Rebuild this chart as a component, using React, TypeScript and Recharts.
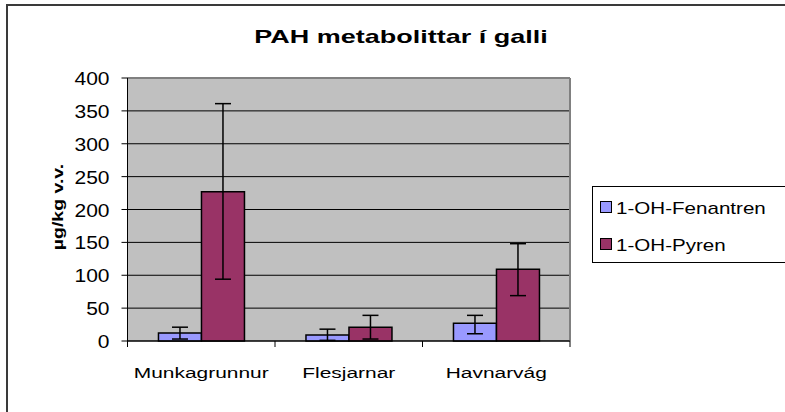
import { BarChart, Bar, XAxis, YAxis, CartesianGrid, ErrorBar } from "recharts";

const categories = ["Munkagrunnur", "Flesjarnar", "Havnarvág"];
const fenantren = [12, 9, 27];
const fenantrenLow = [3, 1, 11];
const fenantrenHigh = [21, 18, 39];
const pyren = [227, 21, 109];
const pyrenLow = [94, 3, 69];
const pyrenHigh = [361, 39, 148];
const yTicks = [0, 50, 100, 150, 200, 250, 300, 350, 400];
const seriesNames = ["1-OH-Fenantren", "1-OH-Pyren"];
const seriesColors = ["#9999FF", "#993366"];

const FONT = '"Liberation Sans", Arial, sans-serif';
const W = 785;
const H = 412;
const PLOT_LEFT = 127.5;
const PLOT_RIGHT = 570;
const PLOT_TOP = 78;
const PLOT_BOTTOM = 341;
const X_AXIS_H = 40;
const Y_AXIS_W = 60;
const BAND = (PLOT_RIGHT - PLOT_LEFT) / categories.length;

const data = categories.map((name, i) => ({
  name,
  fen: fenantren[i],
  fenErr: [fenantren[i] - fenantrenLow[i], fenantrenHigh[i] - fenantren[i]],
  pyr: pyren[i],
  pyrErr: [pyren[i] - pyrenLow[i], pyrenHigh[i] - pyren[i]],
}));

function YTick({ x, y, payload }: any) {
  return (
    <g transform={`translate(${x},${y})`}>
      <text transform="scale(1.2,1)" textAnchor="end" dy={7} fontSize={17.5} fontFamily={FONT} fill="#000">
        {payload.value}
      </text>
    </g>
  );
}

function XTick({ x, payload, index }: any) {
  const half = BAND / 2;
  return (
    <g>
      <line x1={x - half} x2={x - half} y1={PLOT_BOTTOM} y2={PLOT_BOTTOM + 6} stroke="#000" />
      {index === categories.length - 1 && (
        <line x1={x + half} x2={x + half} y1={PLOT_BOTTOM} y2={PLOT_BOTTOM + 6} stroke="#000" />
      )}
      <g transform={`translate(${x},${PLOT_BOTTOM + 37})`}>
        <text transform="scale(1.35,1)" textAnchor="middle" fontSize={15.5} fontFamily={FONT} fill="#000">
          {payload.value}
        </text>
      </g>
    </g>
  );
}

export default function App() {
  return (
    <div style={{ position: "absolute", left: 0, top: 0, width: W, height: H, background: "#fff", overflow: "hidden", fontFamily: FONT }}>
      {/* outer chart frame, runs off the right and bottom edges */}
      <div style={{ position: "absolute", left: 6, top: 4, width: W + 20, height: H + 20, borderTop: "2px solid #3a3a3a", borderLeft: "2px solid #3a3a3a" }} />

      <div
        style={{
          position: "absolute",
          left: 401,
          top: 27,
          fontSize: 19,
          lineHeight: "19px",
          fontWeight: "bold",
          whiteSpace: "nowrap",
          transform: "translateX(-50%) scaleX(1.42)",
        }}
      >
        PAH metabolittar í galli
      </div>

      <div
        style={{
          position: "absolute",
          left: 57,
          top: 207,
          fontSize: 15,
          lineHeight: "15px",
          fontWeight: "bold",
          whiteSpace: "nowrap",
          transform: "translate(-50%,-50%) rotate(-90deg) scaleX(1.3)",
        }}
      >
        µg/kg v.v.
      </div>

      <div style={{ position: "absolute", left: 0, top: 0 }}>
        <BarChart
          width={W}
          height={H}
          data={data}
          barGap={0}
          barCategoryGap="21%"
          margin={{ top: PLOT_TOP, right: W - PLOT_RIGHT, bottom: H - PLOT_BOTTOM - X_AXIS_H, left: PLOT_LEFT - Y_AXIS_W }}
        >
          <CartesianGrid fill="#C0C0C0" fillOpacity={1} vertical={false} stroke="#000" strokeOpacity={1} />
          <CartesianGrid
            fill="none"
            horizontalPoints={[PLOT_TOP]}
            verticalPoints={[PLOT_RIGHT]}
            stroke="#808080"
            strokeWidth={2}
          />
          <XAxis
            dataKey="name"
            interval={0}
            height={X_AXIS_H}
            tickLine={false}
            axisLine={{ stroke: "#000" }}
            tick={<XTick />}
          />
          <YAxis
            width={Y_AXIS_W}
            domain={[0, 400]}
            ticks={yTicks}
            interval={0}
            tickSize={6}
            tickMargin={12}
            tickLine={{ stroke: "#000" }}
            axisLine={{ stroke: "#000" }}
            tick={<YTick />}
          />
          <Bar dataKey="fen" name={seriesNames[0]} fill={seriesColors[0]} stroke="#000" strokeWidth={1.5} isAnimationActive={false}>
            <ErrorBar dataKey="fenErr" width={8} stroke="#000" strokeWidth={1.5} direction="y" />
          </Bar>
          <Bar dataKey="pyr" name={seriesNames[1]} fill={seriesColors[1]} stroke="#000" strokeWidth={1.5} isAnimationActive={false}>
            <ErrorBar dataKey="pyrErr" width={8} stroke="#000" strokeWidth={1.5} direction="y" />
          </Bar>
        </BarChart>
      </div>

      <div style={{ position: "absolute", left: 592, top: 186, width: 220, height: 75, border: "1px solid #000", background: "#fff" }}>
        {seriesNames.map((s, i) => (
          <div key={s}>
            <div
              style={{
                position: "absolute",
                left: 7,
                top: 14 + i * 37,
                width: 10,
                height: 10,
                background: seriesColors[i],
                border: "1px solid #000",
              }}
            />
            <div
              style={{
                position: "absolute",
                left: 23,
                top: 13 + i * 37,
                fontSize: 17,
                lineHeight: "17px",
                whiteSpace: "nowrap",
                transformOrigin: "left center",
                transform: "scaleX(1.21)",
              }}
            >
              {s}
            </div>
          </div>
        ))}
      </div>
    </div>
  );
}
